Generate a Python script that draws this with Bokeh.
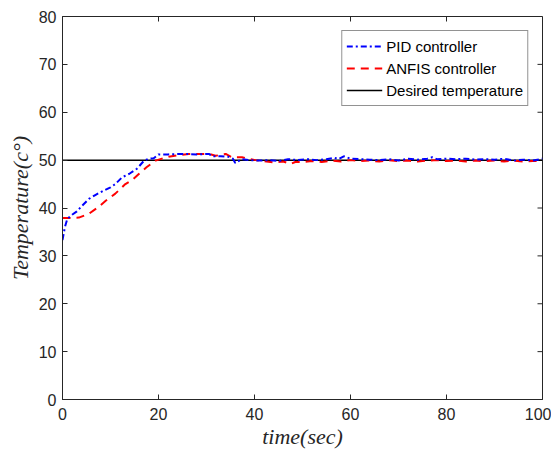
import math
from bokeh.plotting import figure
from bokeh.models import Range1d, FixedTicker, Legend, LegendItem
from bokeh.embed import file_html
from bokeh.resources import INLINE

pid_t = [0, 0.5, 1, 2, 3, 4, 5.5, 7, 8.5, 10, 11, 12.4, 14, 15.5, 17, 18, 19, 20, 22, 25, 28, 30.5,
         31.2, 33, 34.6, 35.5, 36, 37.4, 39, 41, 43, 45, 47, 49, 51, 53, 55, 56.6, 57.5, 58.6, 60,
         62, 64, 66, 68, 70, 72, 74, 76, 77, 78, 80, 82, 84, 86, 88, 90, 92, 94, 96, 98, 100]
pid_v = [33.3, 36.0, 37.7, 38.6, 39.3, 40.4, 41.9, 42.8, 43.6, 44.3, 45.0, 46.4, 47.2, 48.2, 49.9,
         50.3, 50.4, 51.2, 51.2, 51.3, 51.2, 51.3, 50.8, 50.8, 50.7, 50.3, 49.4, 50.2, 50.0, 49.9,
         50.0, 49.8, 50.2, 50.0, 50.2, 50.0, 50.2, 50.5, 50.2, 50.8, 50.3, 50.2, 50.1, 50.0, 50.2,
         49.9, 50.3, 50.1, 50.3, 50.6, 50.2, 50.3, 50.2, 50.3, 50.1, 50.2, 50.1, 50.3, 49.9, 50.1,
         49.9, 50.3]

anfis_t = [0, 1, 3.4, 5.5, 7.6, 9, 11, 13.1, 14.5, 15.9, 17.5, 19.4, 21, 22.1, 24, 26.3, 30.5, 31.9,
           34, 35.3, 37.4, 40.2, 42, 44, 46, 47.5, 48.5, 50, 52, 54, 56, 58, 60, 62, 64, 66, 68, 70,
           72, 74, 76, 78, 80, 82, 84, 86, 88, 90, 92, 94, 96, 98, 100]
anfis_v = [37.9, 37.9, 38.0, 38.8, 40.3, 41.5, 43.0, 45.0, 45.8, 47.1, 48.5, 49.9, 50.4, 50.7, 51.0,
           51.3, 51.3, 50.9, 51.3, 50.6, 50.6, 50.0, 49.8, 49.5, 49.7, 49.2, 49.6, 49.6, 49.8, 49.6,
           49.9, 49.7, 50.0, 49.8, 49.9, 49.7, 50.0, 49.8, 49.9, 49.7, 49.9, 50.0, 49.8, 49.9, 49.7,
           49.9, 49.8, 49.9, 49.7, 49.9, 49.7, 49.8, 49.9]

desired_t = [0, 100]
desired_v = [50, 50]

x_ticks = [0, 20, 40, 60, 80, 100]
y_ticks = [0, 10, 20, 30, 40, 50, 60, 70, 80]
x_min, x_max = 0, 100
y_min, y_max = 0, 80

AX = "#262626"

p = figure(width=551, height=445, output_backend="svg", toolbar_location=None,
           x_range=Range1d(x_min, x_max), y_range=Range1d(y_min, y_max),
           frame_width=480, frame_height=383,
           min_border_left=62, min_border_right=9, min_border_top=16, min_border_bottom=46,
           x_axis_label="time(sec)", y_axis_label="Temperature(c°)")
p.outline_line_color = AX
p.outline_line_width = 1
p.xgrid.visible = False
p.ygrid.visible = False

for ax in p.xaxis + p.yaxis:
    ax.ticker = FixedTicker(ticks=x_ticks if ax in p.xaxis else y_ticks)
    ax.axis_line_color = AX
    ax.axis_line_width = 1
    ax.major_tick_line_color = AX
    ax.major_tick_in = 5
    ax.major_tick_out = 0
    ax.minor_tick_line_color = None
    ax.major_label_text_font = "Liberation Sans"
    ax.major_label_text_font_size = "16px"
    ax.major_label_text_color = AX
    ax.axis_label_text_font = "Liberation Serif"
    ax.axis_label_text_font_style = "italic"
    ax.axis_label_text_font_size = "22px"
    ax.axis_label_text_color = AX
p.xaxis.major_label_standoff = 8
p.yaxis.major_label_standoff = 6
p.xaxis.axis_label_standoff = 1
p.yaxis.axis_label_standoff = 3

# inward tick marks on the top and right edges of the box
p.ray(x=x_ticks, y=[y_max] * len(x_ticks), length=5, length_units="screen",
      angle=-math.pi / 2, line_color=AX, line_width=1)
p.ray(x=[x_max] * len(y_ticks), y=y_ticks, length=5, length_units="screen",
      angle=math.pi, line_color=AX, line_width=1)

r_des = p.line(desired_t, desired_v, line_color="black", line_width=1.5)
r_anf = p.line(anfis_t, anfis_v, line_color="#ff0000", line_width=2, line_dash="8 6")
r_pid = p.line(pid_t, pid_v, line_color="#0000ff", line_width=2, line_dash="6 3 2 3")

legend = Legend(items=[
    LegendItem(label="PID controller", renderers=[r_pid]),
    LegendItem(label="ANFIS controller", renderers=[r_anf]),
    LegendItem(label="Desired temperature", renderers=[r_des]),
], location="top_right")
legend.margin = 14
legend.padding = 4
legend.spacing = 0
legend.glyph_width = 36
legend.glyph_height = 22
legend.label_height = 22
legend.label_standoff = 4
legend.label_text_font = "Liberation Sans"
legend.label_text_font_size = "15px"
legend.label_text_color = "black"
legend.border_line_color = AX
legend.border_line_width = 1
legend.background_fill_alpha = 1
p.add_layout(legend)

open("out.html", "w").write(file_html(p, INLINE))
